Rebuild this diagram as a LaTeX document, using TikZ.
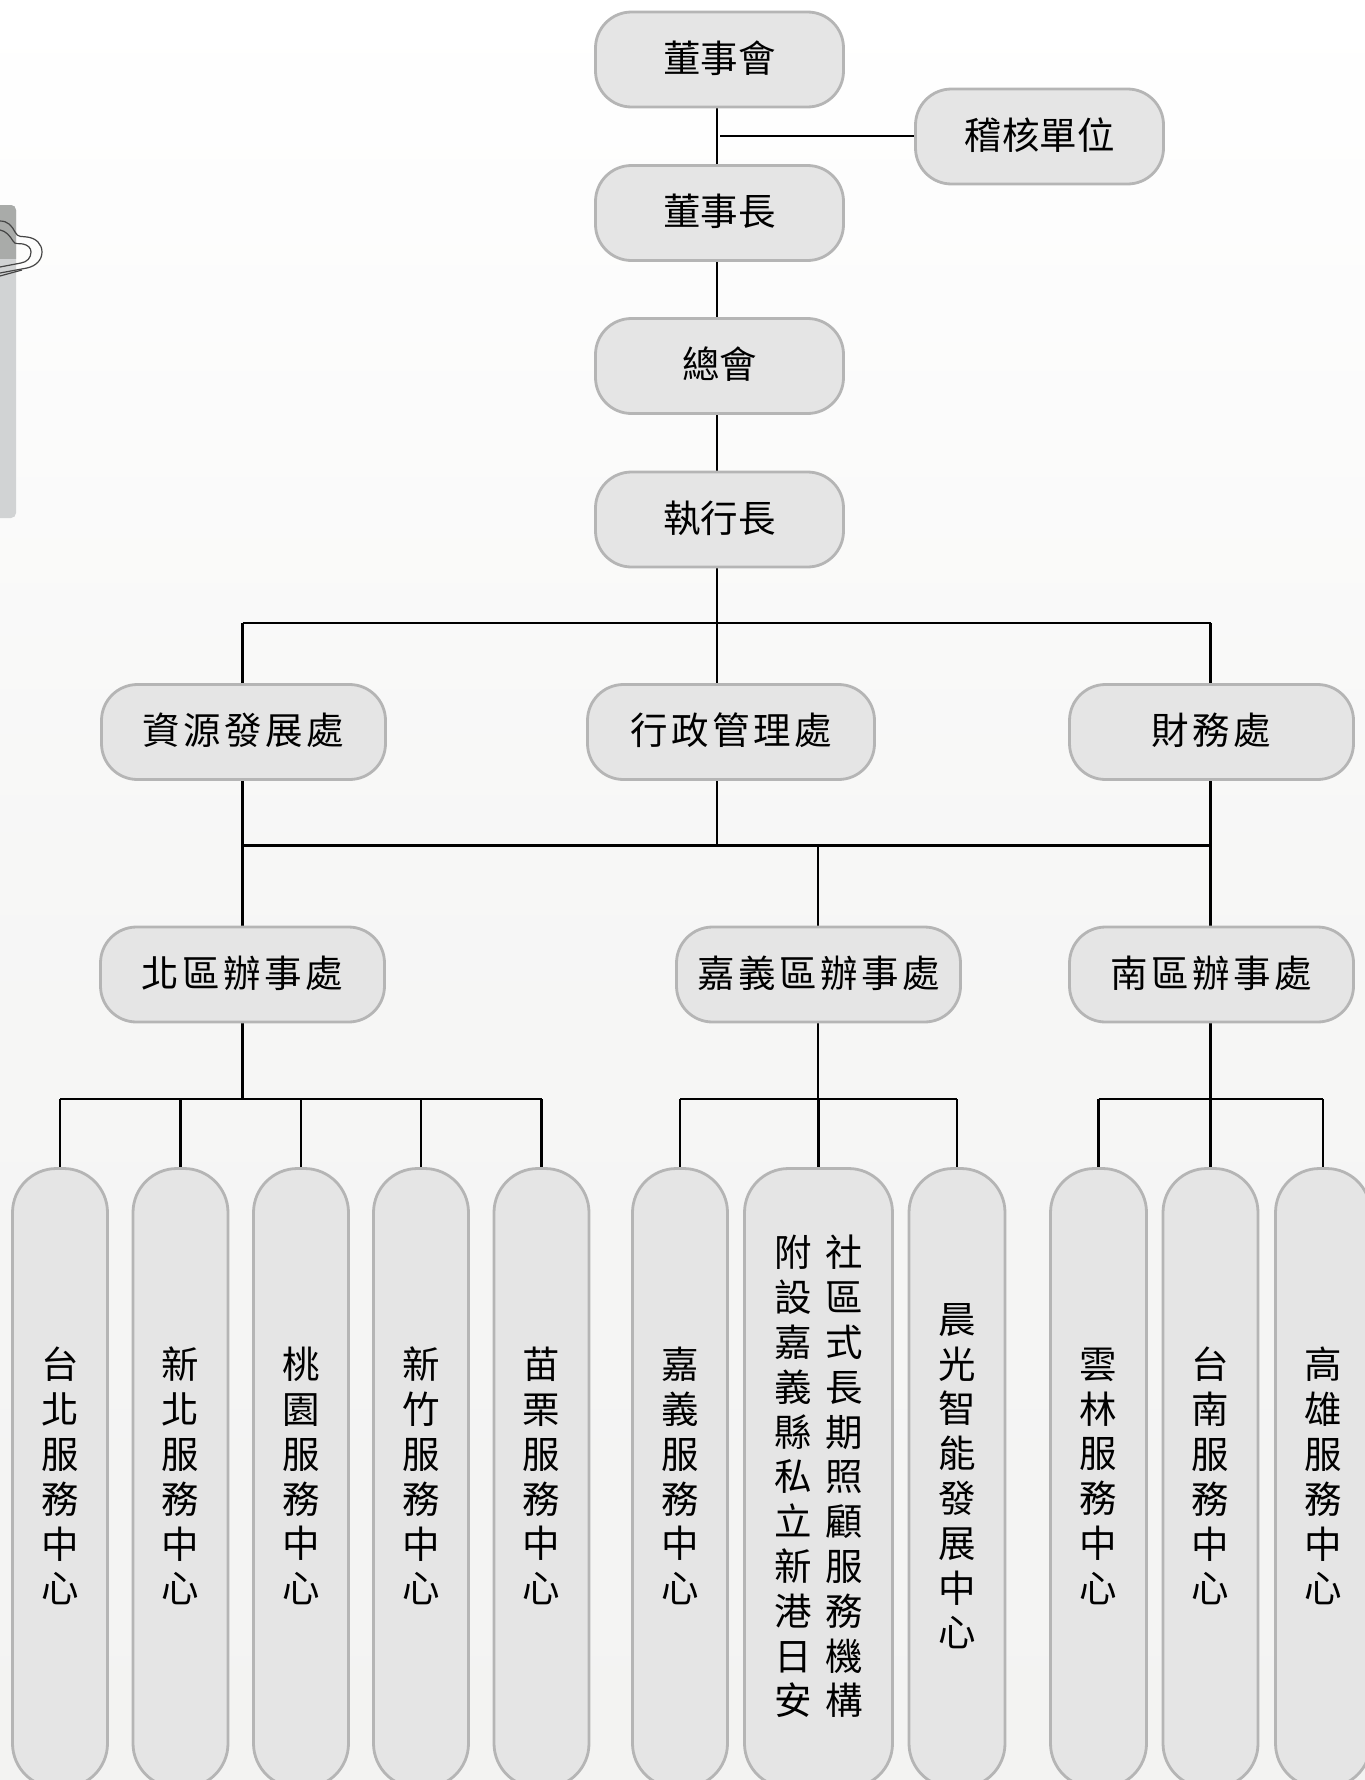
\documentclass[tikz,border=0pt]{standalone}
\usepackage{fontspec}
\usepackage{tikz}
\usetikzlibrary{calc}
\newfontfamily\cjk{Noto Sans CJK TC}
\newfontfamily\cjkwide[LetterSpace=9.5]{Noto Sans CJK TC}
\definecolor{boxfill}{HTML}{E5E5E5}
\definecolor{boxline}{HTML}{B5B5B5}
\definecolor{paper}{HTML}{F3F3F2}
\definecolor{tabdark}{HTML}{A9ABA9}
\definecolor{tablight}{HTML}{D1D3D4}
\definecolor{clipline}{HTML}{454545}
\def\raster{1pt}
\tikzset{
    unit/.style={draw=boxline, fill=boxfill, line width=2.8pt, inner sep=0pt, text depth=6pt,
        rounded corners=36*\raster, minimum height=95*\raster, text=black},
    tight/.style={unit, font=\cjk\fontsize{37.5}{45}\selectfont},
    wide/.style={unit, font=\cjkwide\fontsize{37.5}{45}\selectfont},
    pill/.style={unit, rounded corners=44*\raster, align=center,
        minimum height=619*\raster, font=\cjk\fontsize{37.5}{44.8}\selectfont},
    conn/.style={black, line width=2.8pt},
    wire/.style={clipline, line width=1.2pt}
}
\begin{document}
\begin{tikzpicture}
    \useasboundingbox (0,0) rectangle (1365*\raster,-1780*\raster);
    \clip (0,0) rectangle (1365*\raster,-1780*\raster);

    % paper
    \shade[top color=white, bottom color=paper, middle color=paper!70!white]
        (0,0) rectangle (1365*\raster,-1780*\raster);

    % tab with clip
    \fill[tablight, rounded corners=5*\raster]
        (-20*\raster,-205*\raster) rectangle (16*\raster,-518*\raster);
    \begin{scope}
        \clip (-20*\raster,-205*\raster) rectangle (16*\raster,-258*\raster);
        \fill[tabdark, rounded corners=5*\raster]
            (-20*\raster,-205*\raster) rectangle (16*\raster,-300*\raster);
    \end{scope}
    \draw[wire] (0*\raster,-221*\raster)
        .. controls (8*\raster,-221*\raster) and (12*\raster,-226*\raster) .. (15*\raster,-232*\raster)
        .. controls (18*\raster,-238*\raster) and (22*\raster,-236*\raster) .. (27*\raster,-237*\raster)
        .. controls (36*\raster,-238*\raster) and (42*\raster,-244*\raster) .. (42*\raster,-252*\raster)
        .. controls (42*\raster,-260*\raster) and (36*\raster,-266*\raster) .. (27*\raster,-268*\raster)
        -- (0*\raster,-273*\raster);
    \draw[wire] (0*\raster,-230*\raster)
        .. controls (6*\raster,-231*\raster) and (10*\raster,-236*\raster) .. (13*\raster,-241*\raster)
        .. controls (15*\raster,-245*\raster) and (19*\raster,-243*\raster) .. (23*\raster,-244*\raster)
        .. controls (28*\raster,-245*\raster) and (31*\raster,-248*\raster) .. (31*\raster,-252*\raster)
        .. controls (31*\raster,-258*\raster) and (27*\raster,-262*\raster) .. (21*\raster,-263*\raster)
        -- (0*\raster,-267*\raster);
    \draw[wire] (0*\raster,-276*\raster) -- (22*\raster,-270*\raster);

    % junctions
    \coordinate (j1) at (717*\raster,-136*\raster);
    \coordinate (j2) at (717*\raster,-623*\raster);
    \coordinate (j3) at (717*\raster,-845.5*\raster);
    \coordinate (j4) at (818*\raster,-845.5*\raster);
    \coordinate (j5) at (720*\raster,-136*\raster);
    \coordinate (bar1) at (242.5*\raster,-1099*\raster);
    \coordinate (bar2) at (818*\raster,-1099*\raster);
    \coordinate (bar3) at (1210.5*\raster,-1099*\raster);

    % connectors
    \draw[conn] (717*\raster,-107*\raster) coordinate (c1) -- (717*\raster,-685*\raster) coordinate (c2);
    \draw[conn] (717*\raster,-779*\raster) coordinate (c3) -- (j3);
    \draw[conn] (j2 -| 242.5*\raster,0) coordinate (c4) -- (j2 -| 1210.5*\raster,0) coordinate (c5);
    \draw[conn] (j3 -| 242.5*\raster,0) coordinate (c6) -- (j3 -| 1210.5*\raster,0) coordinate (c7);
    \draw[conn] (c4) -- (c4 |- 0,-685*\raster);
    \draw[conn] (c5) -- (c5 |- 0,-685*\raster);
    \draw[conn] (c6 |- 0,-779*\raster) -- (c6 |- 0,-927*\raster);
    \draw[conn] (c7 |- 0,-779*\raster) -- (c7 |- 0,-927*\raster);
    \draw[conn] (j4) -- (j4 |- 0,-927*\raster);
    \draw[conn] (bar1 |- 0,-1022*\raster) -- (bar1);
    \draw[conn] (bar2 |- 0,-1022*\raster) -- (bar2);
    \draw[conn] (bar3 |- 0,-1022*\raster) -- (bar3);

    % upper boxes
    \foreach \name/\cx/\cy/\w/\kind/\txt in {
        board/719.5/59.5/248/tight/董事會,
        chair/719.5/213/248/tight/董事長,
        general/719.5/366/248/tight/總會,
        ceo/719.5/519.5/248/tight/執行長,
        audit/1039.5/136.5/248/tight/稽核單位,
        resource/243.5/732/284/wide/資源發展處,
        admin/731/732/287/wide/行政管理處,
        finance/1211.5/732/284/wide/財務處,
        north/242.5/974.5/284/wide/北區辦事處,
        chiayi/818.5/974.5/284/wide/嘉義區辦事處,
        south/1211.5/974.5/284/wide/南區辦事處}{

        \node[\kind, minimum width=\w*\raster] (\name) at (\cx*\raster,-\cy*\raster) {\txt};
    }

    % centres
    \foreach \name/\cx/\w/\txt in {
        taipei/60/95/台\\北\\服\\務\\中\\心,
        newtaipei/180.5/95/新\\北\\服\\務\\中\\心,
        taoyuan/301/95/桃\\園\\服\\務\\中\\心,
        hsinchu/421/95/新\\竹\\服\\務\\中\\心,
        miaoli/541.5/95/苗\\栗\\服\\務\\中\\心,
        chiayisc/680/95/嘉\\義\\服\\務\\中\\心,
        daycare/818.5/148/附\hspace{13.5pt}社\\設\hspace{13.5pt}區\\嘉\hspace{13.5pt}式\\義\hspace{13.5pt}長\\縣\hspace{13.5pt}期\\私\hspace{13.5pt}照\\立\hspace{13.5pt}顧\\新\hspace{13.5pt}服\\港\hspace{13.5pt}務\\日\hspace{13.5pt}機\\安\hspace{13.5pt}構,
        morning/957/96/晨\\光\\智\\能\\發\\展\\中\\心,
        yunlin/1098.5/96/雲\\林\\服\\務\\中\\心,
        tainan/1210.5/95/台\\南\\服\\務\\中\\心,
        kaohsiung/1323/95/高\\雄\\服\\務\\中\\心}{

        \node[pill, minimum width=\w*\raster] (\name) at (\cx*\raster,-1478*\raster) {\txt};
    }

    % branches
    \draw[conn] (j5) -- (audit.west |- j5);
    \draw[conn] (taipei.north |- bar1) -- (miaoli.north |- bar1);
    \draw[conn] (chiayisc.north |- bar2) -- (morning.north |- bar2);
    \draw[conn] (yunlin.north |- bar3) -- (kaohsiung.north |- bar3);
    \foreach \point/\bar in {taipei/bar1, newtaipei/bar1, taoyuan/bar1, hsinchu/bar1, miaoli/bar1,
        chiayisc/bar2, daycare/bar2, morning/bar2,
        yunlin/bar3, tainan/bar3, kaohsiung/bar3}{

        \draw[conn] (\point.north |- \bar) -- (\point.north);
    }
\end{tikzpicture}
\end{document}
